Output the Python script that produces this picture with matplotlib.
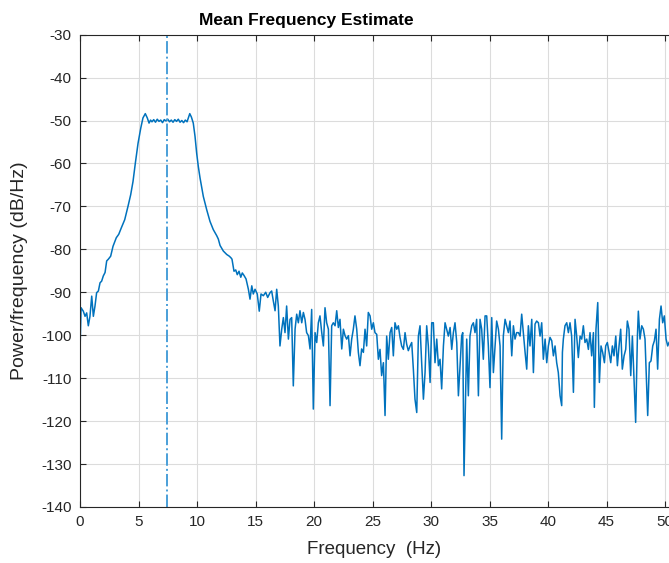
"""Mean frequency estimate: PSD trace with the mean-frequency marker."""
import matplotlib
matplotlib.use("Agg")
import matplotlib.pyplot as plt
import numpy as np

plt.rcParams["font.family"] = ["Liberation Sans", "DejaVu Sans"]
plt.rcParams["axes.unicode_minus"] = False

# --- data (Hz, dB/Hz) ------------------------------------------------------
rise_f = [0.0, 0.01, 0.09, 0.28, 0.43, 0.57, 0.71, 0.85, 1.0, 1.14,
          1.28, 1.42, 1.57, 1.71, 1.85, 1.99, 2.14, 2.28, 2.42, 2.62,
          2.82, 3.1, 3.31, 3.53, 3.82, 4.1, 4.33, 4.53, 4.73, 4.96,
          5.19, 5.38, 5.58, 5.75, 5.9, 6.03]
rise_db = [-109.5, -102.5, -93.6, -94.4, -95.6, -94.8, -97.8, -95.6, -90.9, -95.6,
           -93.2, -90.1, -89.7, -87.8, -87.4, -86.2, -85.4, -82.7, -82.3, -81.6,
           -79.3, -77.3, -76.5, -75.0, -73.1, -70.0, -67.3, -64.2, -59.9, -55.3,
           -51.8, -49.4, -48.4, -49.4, -50.6, -49.9]

top_f = [6.15, 6.3, 6.45, 6.6, 6.75, 6.9, 7.05, 7.2, 7.35, 7.5, 7.65, 7.8,
         7.95, 8.1, 8.25, 8.4, 8.55, 8.7, 8.85, 9.0, 9.15, 9.25, 9.38, 9.52]
top_db = [-50.3, -49.8, -50.4, -49.7, -50.2, -49.9, -50.5, -49.8, -50.1, -49.7, -50.3, -49.9,
          -50.4, -49.8, -50.2, -49.7, -50.4, -50.0, -50.5, -49.9, -50.3, -49.5, -48.4, -49.2]

fall_f = [9.68, 9.83, 9.97, 10.11, 10.26, 10.54, 10.83, 11.11, 11.39, 11.68,
          11.82, 11.97, 12.25, 12.54, 12.76, 12.91, 12.99, 13.16, 13.31, 13.44,
          13.59, 13.74, 13.87, 14.02, 14.19, 14.39, 14.53, 14.68, 14.81, 14.96,
          15.15, 15.32, 15.47, 15.67, 15.87, 16.04]
fall_db = [-50.6, -53.7, -57.6, -60.7, -63.4, -67.7, -70.8, -73.5, -75.4, -76.8,
           -77.6, -79.1, -80.4, -81.2, -81.6, -82.0, -82.3, -85.1, -84.8, -85.9,
           -85.1, -86.5, -85.5, -86.1, -86.9, -89.3, -91.6, -88.5, -90.4, -89.3,
           -90.4, -94.4, -90.4, -90.8, -90.0, -91.2]

floor1_f = [16.24, 16.38, 16.52, 16.67, 16.81, 16.95, 17.09, 17.24, 17.38, 17.52,
            17.66, 17.81, 17.95, 18.09, 18.23, 18.38, 18.52, 18.66, 18.8, 18.95,
            19.09, 19.23, 19.37, 19.52, 19.66, 19.8, 19.94, 20.09, 20.23, 20.37,
            20.51, 20.66, 20.8, 20.94, 21.08, 21.23, 21.37, 21.51, 21.65, 21.8,
            21.94, 22.08, 22.22, 22.37, 22.51, 22.65, 22.79, 22.94, 23.08, 23.22,
            23.36, 23.5, 23.65, 23.79, 23.93, 24.07, 24.22, 24.36, 24.5, 24.64, 24.79]
floor1_db = [-90.1, -89.7, -92.0, -94.3, -89.3, -93.2, -102.5, -98.6, -95.9, -99.4,
             -93.2, -100.9, -96.3, -95.9, -111.8, -98.6, -95.1, -97.1, -94.3, -97.1,
             -94.7, -96.3, -99.4, -100.1, -103.2, -94.0, -117.2, -99.4, -101.7, -97.1,
             -95.5, -99.4, -102.5, -93.6, -97.1, -98.6, -116.4, -97.8, -97.1, -97.8,
             -94.3, -98.2, -96.3, -103.2, -98.6, -100.1, -100.9, -100.1, -104.8, -100.9,
             -98.6, -95.5, -98.6, -104.0, -107.1, -103.2, -104.0, -98.6, -102.5, -94.7, -95.5]

floor2_f = [24.93, 25.07, 25.21, 25.36, 25.5, 25.64, 25.78, 25.93, 26.07, 26.21,
            26.35, 26.5, 26.64, 26.78, 26.92, 27.07, 27.21, 27.35, 27.49, 27.64,
            27.78, 27.92, 28.06, 28.21, 28.35, 28.49, 28.63, 28.78, 28.92, 29.06,
            29.2, 29.35, 29.49, 29.63, 29.77, 29.92, 30.06, 30.2, 30.34, 30.49,
            30.63, 30.77, 30.91, 31.06, 31.2, 31.34, 31.48, 31.63, 31.77, 31.91,
            32.05, 32.2, 32.34]
floor2_db = [-98.6, -97.1, -99.4, -99.8, -105.6, -103.3, -109.4, -106.4, -118.7, -100.2,
             -105.6, -99.4, -98.2, -104.8, -97.1, -98.6, -97.8, -100.5, -102.5, -103.3,
             -99.4, -102.1, -103.6, -102.5, -101.7, -107.9, -114.9, -118.0, -100.2, -97.8,
             -106.4, -114.9, -108.7, -97.8, -102.5, -111.0, -97.1, -97.1, -106.4, -100.9,
             -107.1, -105.6, -112.5, -102.5, -97.1, -98.6, -100.2, -98.2, -103.3, -99.4,
             -97.1, -101.7, -114.1]

floor3_f = [32.62, 32.71, 32.82, 32.96, 33.05, 33.19, 33.33, 33.48, 33.62, 33.76,
            33.9, 34.05, 34.19, 34.33, 34.47, 34.62, 34.76, 34.9, 35.04, 35.19,
            35.33, 35.47, 35.61, 35.76, 35.9, 36.04, 36.18, 36.33, 36.47, 36.61,
            36.75, 36.9, 37.04, 37.18, 37.32, 37.47, 37.61, 37.75, 37.89, 38.04,
            38.18, 38.32, 38.46, 38.61, 38.75, 38.89, 39.03, 39.18, 39.32, 39.46,
            39.6, 39.75, 39.89, 40.03, 40.17, 40.32, 40.46, 40.6, 40.74]
floor3_db = [-100.2, -99.4, -132.7, -114.1, -100.9, -114.1, -100.2, -97.8, -97.1, -99.4,
             -96.3, -114.1, -96.3, -98.6, -105.6, -95.5, -95.5, -102.5, -112.2, -95.9,
             -108.7, -102.5, -96.7, -98.6, -102.5, -124.2, -100.2, -96.3, -97.8, -99.4,
             -96.7, -104.8, -97.8, -100.9, -99.4, -99.4, -100.2, -95.1, -99.4, -104.0,
             -107.9, -97.8, -102.5, -96.3, -108.7, -97.4, -96.7, -97.1, -100.2, -97.1,
             -105.6, -100.9, -106.4, -102.5, -100.5, -101.3, -104.8, -102.5, -106.4]

floor4_f = [40.88, 41.03, 41.17, 41.23, 41.31, 41.45, 41.6, 41.74, 41.88, 42.02,
            42.17, 42.31, 42.45, 42.59, 42.74, 42.88, 43.02, 43.16, 43.31, 43.45,
            43.59, 43.73, 43.88, 43.96, 44.1, 44.25, 44.39, 44.53, 44.67, 44.82,
            44.93, 45.07, 45.22, 45.36, 45.5, 45.64, 45.79, 45.93, 46.07, 46.21,
            46.35, 46.5, 46.64, 46.78, 46.92, 47.07, 47.21, 47.35, 47.49, 47.64,
            47.72, 47.86, 48.01, 48.15, 48.29, 48.43, 48.52, 48.66, 48.8, 48.95,
            49.09, 49.23, 49.37, 49.52, 49.66, 49.8, 49.94, 50.09, 50.23, 50.34]
floor4_db = [-108.7, -114.1, -116.4, -104.0, -100.9, -97.8, -97.1, -99.4, -97.1, -100.2,
             -113.3, -96.3, -100.2, -105.2, -100.2, -100.9, -97.8, -101.7, -100.9, -103.3,
             -99.4, -104.8, -99.4, -116.8, -98.6, -92.4, -111.0, -102.5, -104.0, -106.4,
             -102.5, -101.7, -104.0, -106.4, -102.5, -104.8, -100.2, -107.1, -102.5, -98.6,
             -107.9, -104.8, -103.3, -96.7, -98.6, -109.4, -100.2, -110.2, -120.3, -100.2,
             -94.4, -100.9, -97.8, -98.6, -100.9, -111.8, -118.7, -106.4, -106.0, -102.5,
             -101.3, -98.6, -107.9, -96.3, -93.2, -97.1, -95.5, -100.9, -102.5, -101.7]

mean_freq = 7.46

freq = np.concatenate([rise_f, top_f, fall_f, floor1_f, floor2_f, floor3_f, floor4_f])
psd = np.concatenate([rise_db, top_db, fall_db, floor1_db, floor2_db, floor3_db, floor4_db])

TXT = "#262626"
LINE = "#0072BD"

fig = plt.figure(figsize=(6.69, 5.63), dpi=100)
ax = fig.add_axes([0.1196, 0.0995, 0.8804, 0.839])

ax.plot(freq, psd, color=LINE, lw=1.1)
ax.axvline(mean_freq, color="#4a9fd8", ls="-.", lw=1.4)

ax.set_xlim(0, 50.34)
ax.set_ylim(-140, -30)
ax.set_xticks(np.arange(0, 51, 5))
ax.set_yticks(np.arange(-140, -29, 10))
ax.grid(True, color="#dcdcdc", lw=0.8)
ax.set_axisbelow(True)

ax.tick_params(direction="in", length=4, width=0.8, colors=TXT,
               labelsize=11, top=True, right=False)
ax.tick_params(axis="x", pad=6)
ax.tick_params(axis="y", pad=6)
for side in ("left", "bottom", "top"):
    ax.spines[side].set_color(TXT)
    ax.spines[side].set_linewidth(0.8)
ax.spines["right"].set_visible(False)

ax.set_title("Mean Frequency Estimate", fontsize=12.5, fontweight="bold",
             color="black", x=0.385, pad=7)
ax.set_xlabel("Frequency  (Hz)", fontsize=13.5, color=TXT, va="center")
ax.xaxis.set_label_coords(0.5, -0.089)
ax.set_ylabel("Power/frequency (dB/Hz)", fontsize=14, color=TXT, va="center")
ax.yaxis.set_label_coords(-0.102, 0.5)

fig.savefig("out.png", dpi=100)
